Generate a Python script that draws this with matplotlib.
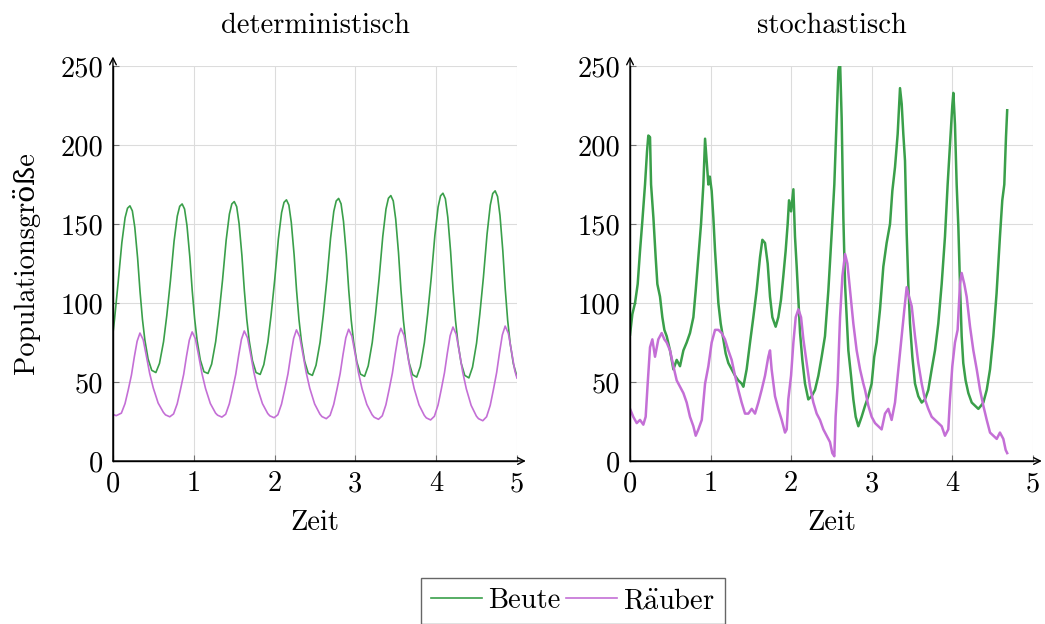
import numpy as np
import matplotlib
matplotlib.use("Agg")
import matplotlib.pyplot as plt

plt.rcParams["font.family"] = ["cmr10", "DejaVu Serif"]
plt.rcParams["mathtext.fontset"] = "cm"
plt.rcParams["font.size"] = 20.5
plt.rcParams["axes.titlesize"] = 20.5
plt.rcParams["axes.unicode_minus"] = False

# deterministic Lotka-Volterra run (read from the solver output)
det_prey_t = [
    0.0, 0.02, 0.065, 0.11, 0.15, 0.18, 0.21, 0.24, 0.27, 0.305, 0.335, 0.365, 0.395, 0.435, 0.48,
    0.531, 0.576, 0.626, 0.666, 0.711, 0.756, 0.796, 0.826, 0.856, 0.886, 0.916, 0.951, 0.981, 1.011, 1.041, 1.081, 1.126,
    1.176, 1.221, 1.271, 1.311, 1.356, 1.401, 1.441, 1.471, 1.501, 1.531, 1.561, 1.596, 1.626, 1.656, 1.686, 1.726, 1.771,
    1.822, 1.867, 1.917, 1.957, 2.002, 2.047, 2.087, 2.117, 2.147, 2.177, 2.207, 2.242, 2.272, 2.302, 2.332, 2.372, 2.417,
    2.468, 2.513, 2.563, 2.603, 2.648, 2.693, 2.733, 2.763, 2.793, 2.823, 2.853, 2.888, 2.918, 2.948, 2.978, 3.018, 3.063,
    3.114, 3.159, 3.209, 3.249, 3.294, 3.339, 3.379, 3.409, 3.439, 3.469, 3.499, 3.534, 3.564, 3.594, 3.624, 3.664, 3.709,
    3.759, 3.804, 3.854, 3.894, 3.939, 3.984, 4.024, 4.054, 4.084, 4.114, 4.144, 4.179, 4.209, 4.239, 4.269, 4.309, 4.354,
    4.405, 4.45, 4.5, 4.54, 4.585, 4.63, 4.67, 4.7, 4.73, 4.76, 4.79, 4.825, 4.855, 4.885, 4.915, 4.955, 5.0,
]
det_prey = [
    81, 90, 113.5, 138.2, 154, 160, 161.5, 158.3, 148, 128.5, 107.3, 89.6, 76.5, 64.5, 57.4,
    56, 61.8, 75.5, 92, 114, 139, 155, 161.2, 162.7, 159.5, 149, 129.3, 107.8, 90, 76.4, 64, 56.5,
    55.4, 61.3, 75.5, 92.2, 114.5, 139.8, 156.3, 162.7, 164.2, 161, 150.2, 130, 108, 89.8, 76.2, 63.6, 56,
    54.8, 61, 75.3, 92.3, 114.8, 140.5, 157.2, 163.7, 165.3, 162, 151, 130.5, 108.1, 89.6, 75.9, 63.2, 55.5,
    54.2, 60.6, 75.1, 92.4, 115.2, 141, 158, 164.6, 166.2, 162.8, 151.7, 131, 108.2, 89.5, 75.6, 62.8, 55,
    53.6, 60.2, 75, 92.6, 115.6, 142, 159.5, 166.3, 168, 164.6, 153.2, 131.8, 108.4, 89.3, 75.3, 62.4, 54.6,
    53.1, 59.8, 74.8, 92.7, 116, 142.8, 160.8, 167.8, 169.5, 166, 154.3, 132.4, 108.6, 89.1, 75, 62, 54.2,
    52.6, 59.4, 74.6, 92.8, 116.4, 143.6, 162, 169.3, 171, 167.4, 155.4, 133, 108.8, 89, 74.8, 61.6, 53.5,
]
det_pred_t = [
    0.0, 0.04, 0.104, 0.149, 0.189, 0.229, 0.264, 0.299, 0.334, 0.374, 0.414, 0.454, 0.499, 0.559, 0.624,
    0.65, 0.703, 0.75, 0.795, 0.835, 0.875, 0.91, 0.945, 0.98, 1.02, 1.06, 1.1, 1.145, 1.205, 1.27,
    1.295, 1.348, 1.395, 1.44, 1.48, 1.52, 1.555, 1.59, 1.625, 1.665, 1.705, 1.745, 1.79, 1.85, 1.915,
    1.941, 1.994, 2.041, 2.086, 2.126, 2.166, 2.201, 2.236, 2.271, 2.311, 2.351, 2.391, 2.436, 2.496, 2.561,
    2.587, 2.64, 2.687, 2.732, 2.772, 2.812, 2.847, 2.882, 2.917, 2.957, 2.997, 3.037, 3.082, 3.142, 3.207,
    3.233, 3.286, 3.333, 3.378, 3.418, 3.458, 3.493, 3.528, 3.563, 3.603, 3.643, 3.683, 3.728, 3.788, 3.853,
    3.878, 3.931, 3.978, 4.023, 4.063, 4.103, 4.138, 4.173, 4.208, 4.248, 4.288, 4.328, 4.373, 4.433, 4.498,
    4.524, 4.577, 4.624, 4.669, 4.709, 4.749, 4.784, 4.819, 4.854, 4.894, 4.934, 4.974, 5.0,
]
det_pred = [
    29.5, 28.7, 30.3, 36.3, 45, 54.5, 65.8, 75.8, 81, 76.8, 66.3, 55.5, 46.2, 36.7, 30.8,
    29.2, 28, 29.8, 36.2, 45.2, 54.8, 66.3, 76.5, 81.7, 77.4, 66.8, 55.7, 46, 36.4, 30.3,
    29, 27.8, 29.6, 36.2, 45.3, 55, 66.6, 77, 82.3, 78, 67.2, 55.9, 46, 36.3, 30.1,
    28.6, 27.4, 29.3, 36, 45.3, 55.2, 67, 77.6, 83, 78.6, 67.6, 56.1, 46, 36.1, 29.7,
    28.1, 26.8, 28.9, 35.8, 45.3, 55.4, 67.3, 78, 83.4, 79, 67.9, 56.2, 45.9, 35.8, 29.3,
    27.7, 26.4, 28.6, 35.6, 45.3, 55.6, 67.7, 78.6, 84, 79.5, 68.2, 56.3, 45.8, 35.5, 28.9,
    27.3, 26, 28.3, 35.4, 45.3, 55.9, 68.2, 79.3, 84.8, 80.2, 68.6, 56.4, 45.7, 35.2, 28.4,
    26.8, 25.5, 28, 35.2, 45.3, 56.1, 68.6, 79.8, 85.4, 80.7, 69, 57, 52.5,
]

# stochastic run (one realisation)
sto_prey_t = [
    0.0, 0.029, 0.062, 0.095, 0.124, 0.153, 0.186, 0.211, 0.227, 0.248, 0.261, 0.29, 0.318, 0.339,
    0.372, 0.401, 0.426, 0.455, 0.496, 0.538, 0.579, 0.62, 0.662, 0.703, 0.744, 0.786, 0.815, 0.848,
    0.881, 0.91, 0.931, 0.951, 0.972, 0.99, 1.013, 1.034, 1.055, 1.075, 1.096, 1.125, 1.158, 1.187,
    1.22, 1.261, 1.303, 1.344, 1.385, 1.406, 1.447, 1.489, 1.53, 1.571, 1.613, 1.642, 1.675, 1.708,
    1.737, 1.766, 1.807, 1.84, 1.873, 1.902, 1.931, 1.956, 1.973, 1.998, 2.027, 2.047, 2.068, 2.089,
    2.11, 2.138, 2.171, 2.212, 2.254, 2.295, 2.337, 2.378, 2.419, 2.461, 2.502, 2.535, 2.564, 2.585,
    2.606, 2.626, 2.647, 2.668, 2.688, 2.709, 2.742, 2.771, 2.8, 2.833, 2.874, 2.916, 2.957, 2.998,
    3.03, 3.06, 3.102, 3.143, 3.184, 3.226, 3.255, 3.288, 3.321, 3.35, 3.371, 3.391, 3.412, 3.433,
    3.453, 3.474, 3.503, 3.536, 3.577, 3.619, 3.66, 3.701, 3.743, 3.784, 3.825, 3.867, 3.908, 3.941,
    3.97, 3.999, 4.012, 4.032, 4.053, 4.074, 4.094, 4.115, 4.135, 4.164, 4.198, 4.24, 4.281, 4.322,
    4.355, 4.384, 4.426, 4.467, 4.508, 4.548, 4.59, 4.619, 4.644, 4.665, 4.68,
]
sto_prey = [
    80, 93, 100, 112, 133, 152, 175, 196, 206, 205, 175, 154, 129, 112,
    104, 91, 83, 79, 70, 58, 64, 60, 70, 75, 81, 91, 108, 129,
    150, 175, 204, 190, 175, 180, 171, 154, 133, 117, 100, 87, 77, 68,
    62, 58, 54, 51, 49, 47, 58, 75, 91, 108, 129, 140, 138, 125,
    104, 91, 85, 91, 102, 117, 133, 150, 165, 158, 172, 142, 123, 102,
    81, 64, 49, 39, 41, 45, 54, 66, 79, 108, 144, 175, 217, 247,
    253, 217, 154, 112, 91, 70, 54, 39, 28, 22, 28, 35, 41, 49,
    66, 75, 96, 123, 138, 150, 171, 186, 207, 236, 226, 207, 190, 144,
    112, 87, 66, 49, 41, 37, 39, 45, 58, 70, 87, 112, 142, 175,
    200, 225, 233, 213, 175, 148, 112, 79, 62, 51, 43, 37, 35, 33,
    35, 37, 45, 58, 79, 106, 142, 165, 175, 205, 222,
]
sto_pred_t = [
    0.0, 0.04, 0.083, 0.124, 0.165, 0.194, 0.219, 0.248, 0.277, 0.31, 0.351, 0.393, 0.426, 0.455,
    0.496, 0.538, 0.579, 0.62, 0.662, 0.703, 0.744, 0.786, 0.815, 0.848, 0.89, 0.931, 0.972, 1.013,
    1.055, 1.096, 1.137, 1.178, 1.22, 1.261, 1.303, 1.344, 1.385, 1.427, 1.468, 1.51, 1.551, 1.592,
    1.633, 1.675, 1.716, 1.737, 1.757, 1.799, 1.84, 1.882, 1.923, 1.944, 1.964, 1.998, 2.027, 2.056,
    2.089, 2.122, 2.151, 2.192, 2.233, 2.275, 2.316, 2.357, 2.399, 2.44, 2.481, 2.51, 2.535, 2.551,
    2.576, 2.606, 2.635, 2.668, 2.697, 2.73, 2.771, 2.812, 2.854, 2.895, 2.916, 2.957, 2.998, 3.04,
    3.081, 3.122, 3.164, 3.205, 3.246, 3.288, 3.329, 3.37, 3.404, 3.433, 3.462, 3.495, 3.536, 3.577,
    3.619, 3.66, 3.701, 3.743, 3.784, 3.825, 3.867, 3.908, 3.949, 3.97, 3.999, 4.032, 4.065, 4.094,
    4.115, 4.148, 4.177, 4.219, 4.26, 4.302, 4.343, 4.384, 4.426, 4.467, 4.508, 4.55, 4.59, 4.632,
    4.661, 4.68,
]
sto_pred = [
    33, 28, 24, 26, 23, 28, 49, 72, 77, 66, 77, 81, 77, 75,
    70, 60, 51, 47, 43, 37, 28, 22, 16, 20, 26, 49, 60, 75,
    83, 83, 81, 77, 70, 64, 54, 45, 37, 30, 30, 33, 30, 37,
    45, 54, 66, 70, 58, 41, 33, 26, 18, 20, 39, 54, 75, 91,
    96, 91, 77, 62, 47, 37, 30, 26, 20, 16, 12, 5, 3, 28,
    49, 91, 117, 131, 125, 108, 87, 70, 58, 49, 45, 35, 28, 24,
    22, 20, 30, 33, 26, 37, 58, 79, 96, 110, 104, 98, 79, 62,
    49, 39, 33, 28, 26, 24, 22, 16, 20, 39, 60, 75, 83, 112,
    119, 112, 104, 85, 70, 58, 45, 35, 26, 18, 16, 14, 18, 14,
    7, 5,
]

prey_color = "#3a9f4a"
pred_color = "#c46fd6"

fig = plt.figure(figsize=(10.45, 6.24), dpi=100)
ax_det = fig.add_axes([0.1081, 0.2612, 0.3866, 0.633])
ax_sto = fig.add_axes([0.6029, 0.2612, 0.3856, 0.633])

series = [
    (ax_det, "deterministisch", det_prey_t, det_prey, det_pred_t, det_pred, 1.2),
    (ax_sto, "stochastisch", sto_prey_t, sto_prey, sto_pred_t, sto_pred, 1.8),
]
for ax, title, pt, prey, rt, pred, lw in series:
    ax.plot(pt, prey, color=prey_color, lw=lw, label="Beute")
    ax.plot(rt, pred, color=pred_color, lw=lw, label=r"R$\ddot{\mathrm{a}}$uber")
    ax.set_xlim(0, 5)
    ax.set_ylim(0, 250)
    ax.set_xticks(np.arange(0, 6, 1))
    ax.set_yticks(np.arange(0, 251, 50))
    ax.grid(True, color="#dcdcdc", lw=0.8)
    ax.set_axisbelow(True)
    for side in ["top", "right"]:
        ax.spines[side].set_visible(False)
    for side in ["left", "bottom"]:
        ax.spines[side].set_linewidth(1.0)
    ax.tick_params(direction="in", length=4, width=0.8, color="0.45", pad=7)
    ax.set_title(title, pad=24)
    ax.set_xlabel("Zeit", labelpad=9)
    # axis arrows
    ax.annotate("", xy=(1.022, 0), xytext=(0, 0), xycoords="axes fraction",
                arrowprops=dict(arrowstyle="->", lw=1.0, color="black",
                                shrinkA=0, shrinkB=0, mutation_scale=12))
    ax.annotate("", xy=(0, 1.024), xytext=(0, 0), xycoords="axes fraction",
                arrowprops=dict(arrowstyle="->", lw=1.0, color="black",
                                shrinkA=0, shrinkB=0, mutation_scale=12))

ax_det.set_ylabel("Populationsgröße", labelpad=15)

handles, labels = ax_det.get_legend_handles_labels()
fig.legend(handles, labels, loc="upper center", bbox_to_anchor=(0.548, 0.074),
           ncol=2, frameon=True, fancybox=False, edgecolor="0.25",
           handlelength=1.8, handletextpad=0.2, columnspacing=0.2,
           borderpad=0.35, borderaxespad=0)

fig.savefig("out.png", dpi=100)
